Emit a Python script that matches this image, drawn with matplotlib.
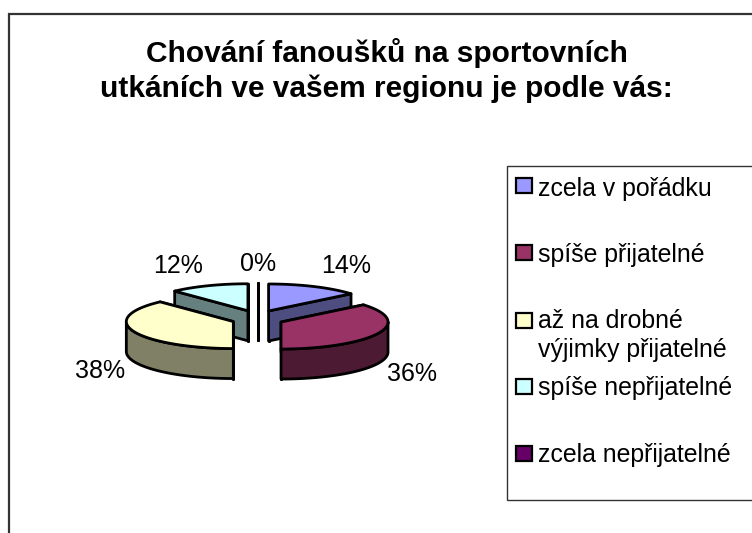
import numpy as np
import matplotlib
matplotlib.use("Agg")
import matplotlib.pyplot as plt
from matplotlib.patches import Polygon, Rectangle

plt.rcParams['font.family'] = ['Liberation Sans', 'DejaVu Sans']

TITLE = "Chování fanoušků na sportovních\nutkáních ve vašem regionu je podle vás:"
categories = ["zcela v pořádku", "spíše přijatelné", "až na drobné\nvýjimky přijatelné",
              "spíše nepřijatelné", "zcela nepřijatelné"]
values = [14, 36, 38, 12, 0]
top_colors = ["#9999FF", "#993366", "#FFFFCC", "#CCFFFF", "#660066"]
side_colors = ["#4D4D80", "#4D1A33", "#808066", "#668080", "#330033"]

# layout of the pie in figure pixels
CX, CY = 257.5, 318.5
A, B, DEPTH = 107, 27, 30
EX, EY = 26, 8.3
label_pos = [(346, 266), (412, 374), (100, 371), (178, 266), (258, 264)]

fig = plt.figure(figsize=(7.52, 5.33), dpi=100, facecolor="white")
ax = fig.add_axes([0, 0, 1, 1])
ax.set_xlim(0, 752)
ax.set_ylim(533, 0)
ax.axis("off")

# chart frame (runs off the right and bottom edges)
ax.add_patch(Rectangle((9, 14), 800, 600, fc="white", ec="#333333", lw=1.6, zorder=0))

ax.text(386.5, 70.5, TITLE, ha="center", va="center", fontsize=21.5, fontweight="bold",
        color="black", linespacing=1.27)


def draw_slice(cx, cy, a0, a1, top, side, z):
    def pts(th):
        return cx + A * np.sin(th), cy - B * np.cos(th)
    style = dict(ec="black", lw=2.0, joinstyle="round", zorder=z)
    for th in (a0, a1):
        x, y = pts(th)
        ax.add_patch(Polygon([(cx, cy), (x, y), (x, y + DEPTH), (cx, cy + DEPTH)], fc=side, **style))
    lo, hi = max(a0, np.pi / 2), min(a1, 3 * np.pi / 2)
    if hi > lo:
        t = np.linspace(lo, hi, 80)
        x, y = pts(t)
        ax.add_patch(Polygon(np.r_[np.c_[x, y], np.c_[x, y + DEPTH][::-1]], fc=side, **style))
    t = np.linspace(a0, a1, 120)
    x, y = pts(t)
    ax.add_patch(Polygon(np.r_[[[cx, cy]], np.c_[x, y]], fc=top, **style))


angles = np.r_[0, np.cumsum(values)] / sum(values) * 2 * np.pi
order = [3, 4, 0, 2, 1]
for i in order:
    a0, a1 = angles[i], angles[i + 1]
    mid = (a0 + a1) / 2
    draw_slice(CX + EX * np.sin(mid), CY - EY * np.cos(mid), a0, a1,
               top_colors[i], side_colors[i], 2 + order.index(i))

for v, (x, y) in zip(values, label_pos):
    ax.text(x, y, f"{v}%", ha="center", va="center", fontsize=18, color="black", zorder=20)

# legend
ax.add_patch(Rectangle((507, 166), 300, 334, fc="white", ec="#333333", lw=1.0, zorder=1))
leg_base = [196, 262, 329, 395, 462]
swatch_top = [177.5, 244.5, 312.5, 378.5, 445.5]
for lab, col, base, sy in zip(categories, top_colors, leg_base, swatch_top):
    ax.add_patch(Rectangle((516, sy), 16, 15.5, fc=col, ec="black", lw=1.6, zorder=3))
    ax.text(538, base + 28.5 * lab.count("\n"), lab, ha="left", va="baseline",
            fontsize=17.9, color="black", linespacing=1.27, zorder=3)

fig.savefig("out.png", dpi=100)
